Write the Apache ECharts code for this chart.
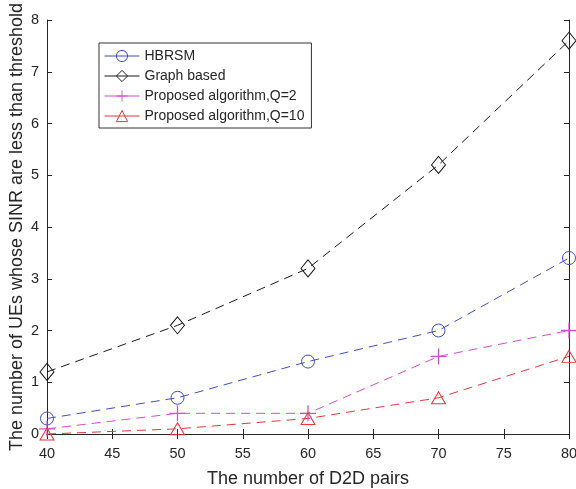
<!DOCTYPE html>
<html><head><meta charset="utf-8">
<script src="https://cdn.jsdelivr.net/npm/echarts@6/dist/echarts.min.js"></script>
<style>html,body{margin:0;padding:0;background:#fff}#c{width:576px;height:489px}</style>
</head><body><div id="c"></div>
<script>
const xValues = [40, 50, 60, 70, 80];
const hbrsm = [0.3, 0.7, 1.4, 2.0, 3.4];
const graphBased = [1.2, 2.1, 3.2, 5.2, 7.6];
const proposedQ2 = [0.1, 0.4, 0.4, 1.5, 2.0];
const proposedQ10 = [0.0, 0.1, 0.3, 0.7, 1.5];
const seriesNames = ['HBRSM', 'Graph based', 'Proposed algorithm,Q=2', 'Proposed algorithm,Q=10'];

const pair = arr => arr.map((v, i) => [xValues[i], v]);
const font = 'Liberation Sans, Arial, sans-serif';
const axisColor = '#262626';
const plusPath = 'path://M4.6,0H5.4V4.6H10V5.4H5.4V10H4.6V5.4H0V4.6H4.6Z';

function mk(name, data, color, symbol, size) {
  const isPlus = symbol === plusPath;
  return {
    name, type: 'line', data: pair(data), symbol, symbolSize: size,
    showAllSymbol: true, clip: false,
    lineStyle: { color, width: 1, type: [9, 6] },
    itemStyle: isPlus ? { color, borderWidth: 0 } : { color: 'rgba(255,255,255,0)', borderColor: color, borderWidth: 1 },
    emphasis: { disabled: true }, animation: false, z: 3
  };
}

const chart = echarts.init(document.getElementById('c'));
const xAxisBase = { type: 'value', min: 40, max: 80, interval: 5 };
const yAxisBase = { type: 'value', min: 0, max: 8, interval: 1 };
chart.setOption({
  backgroundColor: '#fff',
  animation: false,
  grid: { left: 47, right: 7, top: 20, bottom: 55, containLabel: false, outerBoundsMode: 'none' },
  legend: {
    orient: 'vertical', left: 99, top: 43,
    backgroundColor: '#fff', borderColor: '#333', borderWidth: 1,
    padding: [6, 7, 5, 5],
    itemWidth: 35, itemHeight: 14, itemGap: 6,
    textStyle: { fontFamily: font, fontSize: 14, color: '#262626' },
    lineStyle: { type: 'solid', width: 1 },
    itemStyle: { borderWidth: 1 },
    data: seriesNames
  },
  xAxis: [
    Object.assign({}, xAxisBase, {
      position: 'bottom',
      name: 'The number of D2D pairs', nameLocation: 'middle', nameGap: 36,
      nameTextStyle: { fontFamily: font, fontSize: 18, color: axisColor },
      axisLine: { lineStyle: { color: axisColor, width: 1 } },
      axisTick: { inside: true, length: 5, lineStyle: { color: axisColor } },
      axisLabel: { fontFamily: font, fontSize: 14.5, color: axisColor, margin: 12 },
      splitLine: { show: false }
    }),
    Object.assign({}, xAxisBase, {
      position: 'top',
      axisLine: { lineStyle: { color: axisColor, width: 1 } },
      axisTick: { inside: true, length: 5, lineStyle: { color: axisColor } },
      axisLabel: { show: false }, splitLine: { show: false }
    })
  ],
  yAxis: [
    Object.assign({}, yAxisBase, {
      position: 'left',
      name: 'The number of UEs whose SINR are less than threshold', nameLocation: 'middle', nameGap: 21,
      nameMoveOverlap: false,
      nameTextStyle: { fontFamily: font, fontSize: 18, color: axisColor },
      axisLine: { show: true, lineStyle: { color: axisColor, width: 1 } },
      axisTick: { show: true, inside: true, length: 5, lineStyle: { color: axisColor } },
      axisLabel: { fontFamily: font, fontSize: 14.5, color: axisColor, margin: 8 },
      splitLine: { show: false }
    }),
    Object.assign({}, yAxisBase, {
      position: 'right',
      axisLine: { show: true, lineStyle: { color: axisColor, width: 1 } },
      axisTick: { show: true, inside: true, length: 5, lineStyle: { color: axisColor } },
      axisLabel: { show: false }, splitLine: { show: false }
    })
  ],
  series: [
    mk(seriesNames[0], hbrsm, '#3f4fc6', 'circle', 13),
    mk(seriesNames[1], graphBased, '#1a1a1a', 'diamond', [14, 17]),
    mk(seriesNames[2], proposedQ2, '#d24fd2', plusPath, 16),
    mk(seriesNames[3], proposedQ10, '#e8383a', 'triangle', [14, 12])
  ]
});
</script></body></html>
